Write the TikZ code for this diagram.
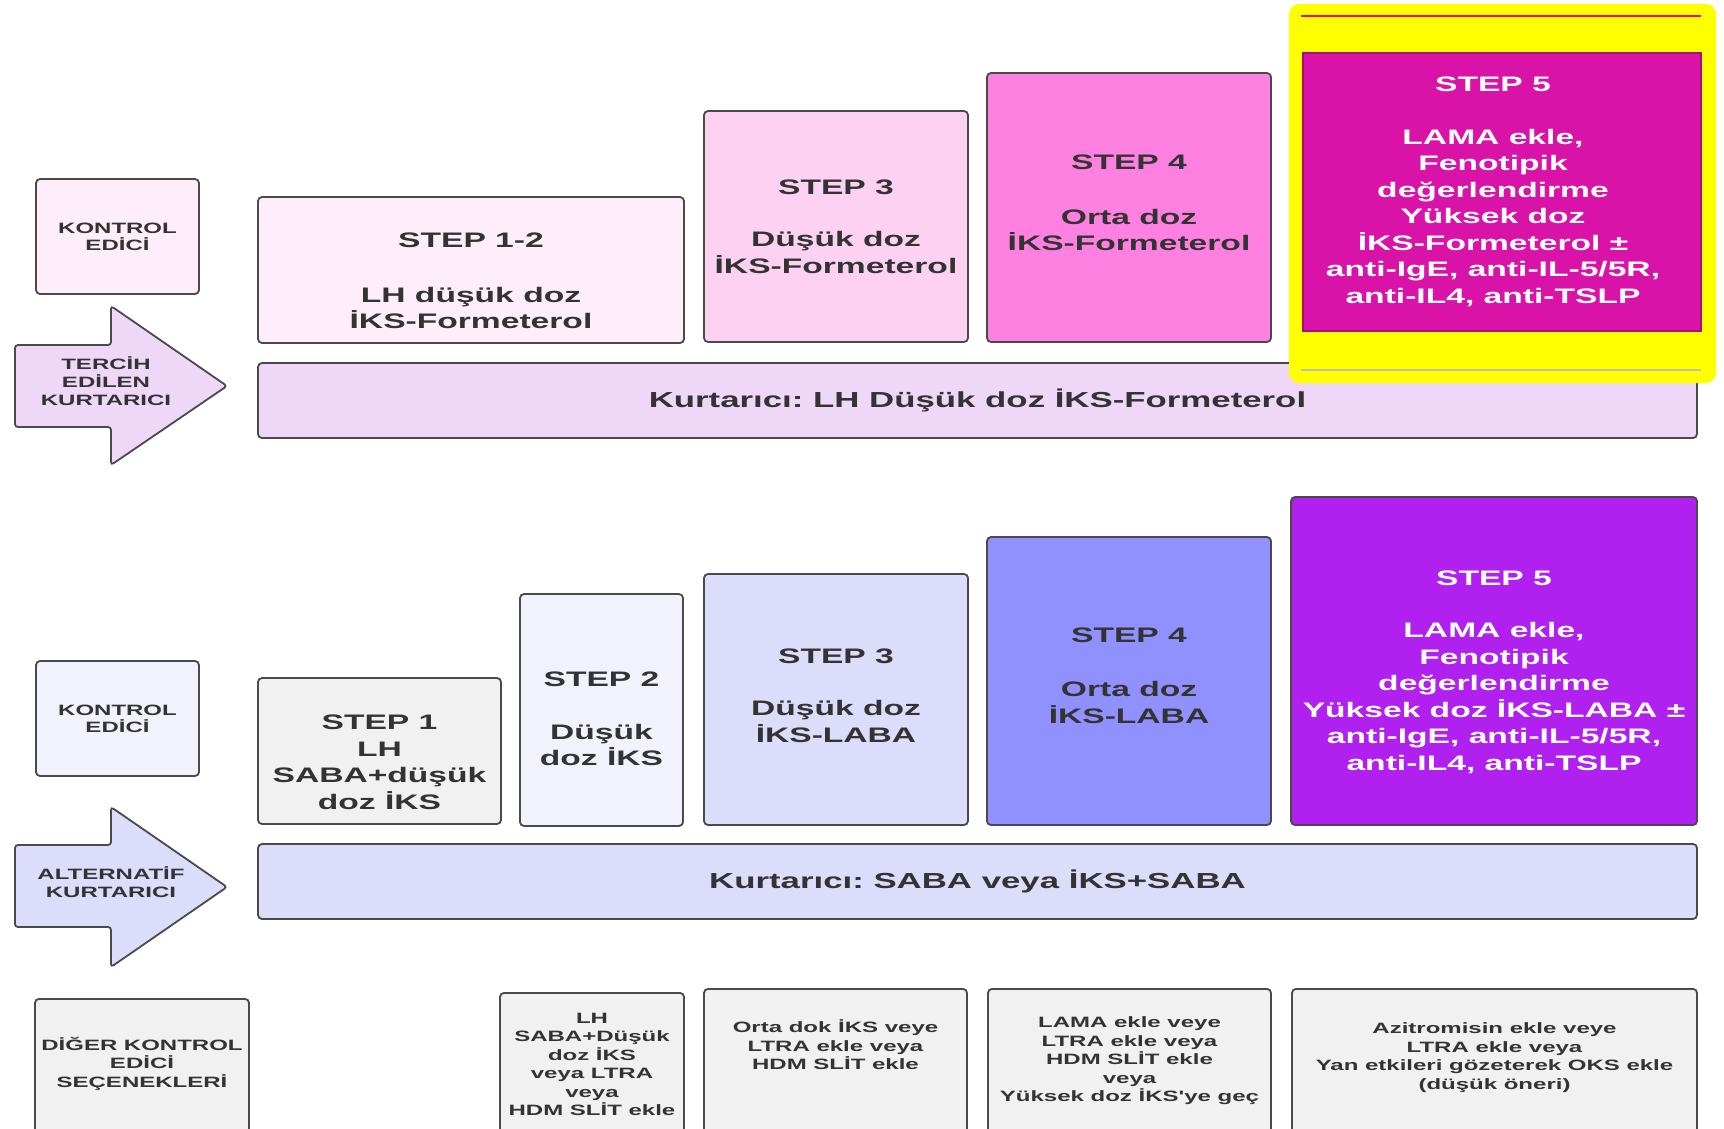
\documentclass[tikz,border=0pt]{standalone}
\usepackage{fontspec}
\setmainfont{Liberation Sans}[FakeStretch=1.6, Ligatures=TeXOff]
\usepackage{xcolor}
\usepackage{tikz}
\frenchspacing

\definecolor{edge}{HTML}{4A4A4A}
\definecolor{ink}{HTML}{333333}
\definecolor{pinkpale}{HTML}{FDEEFA}
\definecolor{pinklight}{HTML}{FDD1F2}
\definecolor{pinkmid}{HTML}{FE80E0}
\definecolor{pinkdeep}{HTML}{D912A8}
\definecolor{lilac}{HTML}{EFD7F8}
\definecolor{lavpale}{HTML}{F2F2FD}
\definecolor{lavlight}{HTML}{DCDCFB}
\definecolor{lavmid}{HTML}{9090FF}
\definecolor{violet}{HTML}{B020EE}
\definecolor{greypale}{HTML}{F1F1F1}
\definecolor{marker}{HTML}{FFFF00}

% push the text of a box down (strut on first line) or up (depth on last line)
\newcommand{\dn}[1]{\rule{0pt}{#1}}
\newcommand{\up}[1]{\rule[-#1]{0pt}{0pt}}

\begin{document}
\begin{tikzpicture}[x=1pt, y=-1pt,
  box/.style={draw=edge, line width=1.8pt, rounded corners=4pt, inner sep=0pt,
              align=center, text=ink, font=\bfseries\fontsize{21}{26.5}\selectfont},
  tag/.style={box, font=\bfseries\fontsize{15}{17}\selectfont},
  opt/.style={box, fill=greypale, anchor=north, inner xsep=0pt,
              font=\bfseries\fontsize{15}{18.5}\selectfont},
  bar/.style={box, font=\bfseries\fontsize{21.75}{26}\selectfont},
  sz/.style 2 args={minimum width=#1, minimum height=#2},
  arrowshape/.style={draw=edge, line width=1.8pt, rounded corners=3pt},
  arrowtext/.style={align=center, text=ink, inner sep=0pt,
                    font=\bfseries\fontsize{15}{18}\selectfont}]
  \useasboundingbox (0,0) rectangle (1724,1128);

  % ---------- preferred track ----------
  \node[tag, fill=pinkpale, sz={163}{115}] (ctrlA) at (117.5,236.5) {KONTROL\\EDİCİ};

  \draw[arrowshape, fill=lilac] (15,345) -- (111,345) -- (111,306) -- (227,386)
    -- (111,465) -- (111,427) -- (15,427) -- cycle;
  \node[arrowtext] (relA) at (106,381) {TERCİH\\EDİLEN\\KURTARICI};

  \node[box, fill=pinkpale, sz={426}{146}] (stepAa) at (471,270)
    {\dn{37pt}STEP 1-2\\[28pt]LH düşük doz\\İKS-Formeterol};
  \node[box, fill=pinklight, sz={264}{231}] (stepAb) at (836,226.5)
    {STEP 3\\[26pt]Düşük doz\\İKS-Formeterol};
  \node[box, fill=pinkmid, sz={284}{269}] (stepAc) at (1129,207.5)
    {STEP 4\\[28pt]Orta doz\\İKS-Formeterol\up{9pt}};

  \node[bar, fill=lilac, sz={1439}{75}] (barA) at (977.5,400.5)
    {Kurtarıcı: LH Düşük doz İKS-Formeterol};

  % highlight round step 5
  \node[fill=marker, draw=marker, line width=2pt, rounded corners=9pt,
        sz={425}{377}] (mark) at (1502.5,193.5) {};
  \draw[pinkdeep!80!red, line width=2.5pt] ([xshift=12pt,yshift=-12pt]mark.north west)
    -- ([xshift=-15pt,yshift=-12pt]mark.north east);
  \draw[black!25, line width=1.5pt] ([xshift=12pt,yshift=13pt]mark.south west)
    -- ([xshift=-15pt,yshift=13pt]mark.south east);
  \node[box, fill=pinkdeep, draw=pinkdeep!75!black, line width=1.2pt, rounded corners=0pt,
        sz={398}{278}] (stepAd) at (1502,192) {};
  \node[align=center, text=white, inner sep=0pt,
        font=\bfseries\fontsize{21}{26.5}\selectfont] (stepAdtext) at ([xshift=-9pt]stepAd.center)
    {STEP 5\\[26pt]LAMA ekle,\\Fenotipik\\değerlendirme\\Yüksek doz\\İKS-Formeterol ±\\
     anti-IgE, anti-IL-5/5R,\\anti-IL4, anti-TSLP};

  % ---------- alternative track ----------
  \node[tag, fill=lavpale, sz={163}{115}] (ctrlB) at (117.5,718.5) {KONTROL\\EDİCİ};

  \draw[arrowshape, fill=lavlight] (15,845) -- (111,845) -- (111,807) -- (227,887)
    -- (111,967) -- (111,927) -- (15,927) -- cycle;
  \node[arrowtext] (relB) at (111,882.5) {ALTERNATİF\\KURTARICI};

  \node[box, fill=greypale, sz={243}{146}] (stepBa) at (379.5,751)
    {\dn{37pt}STEP 1\\LH\\SABA+düşük\\doz İKS};
  \node[box, fill=lavpale, sz={163}{232}] (stepBb) at (601.5,710)
    {\dn{33pt}STEP 2\\[26pt]Düşük\\doz İKS};
  \node[box, fill=lavlight, sz={264}{251}] (stepBc) at (836,699.5)
    {STEP 3\\[26pt]Düşük doz\\İKS-LABA\up{8pt}};
  \node[box, fill=lavmid, sz={284}{288}] (stepBd) at (1129,681)
    {STEP 4\\[28pt]Orta doz\\İKS-LABA\up{11pt}};
  \node[box, fill=violet, text=white, sz={406}{328}] (stepBe) at (1494,661)
    {\dn{37pt}STEP 5\\[26pt]LAMA ekle,\\Fenotipik\\değerlendirme\\Yüksek doz İKS-LABA ±\\
     anti-IgE, anti-IL-5/5R,\\anti-IL4, anti-TSLP};

  \node[bar, fill=lavlight, sz={1439}{75}] (barB) at (977.5,881.5)
    {Kurtarıcı: SABA veya İKS+SABA};

  % ---------- other controllers (run off the page) ----------
  \node[opt, inner ysep=38pt, minimum width=214] (other) at (142,998)
    {DİĞER KONTROL\\EDİCİ\\SEÇENEKLERİ\\[60pt]\null};
  \node[opt, inner ysep=20pt, minimum width=184] (optBb) at (592,992)
    {LH\\SABA+Düşük\\doz İKS\\veya LTRA\\veya\\HDM SLİT ekle\\[40pt]\null};
  \node[opt, inner ysep=31pt, minimum width=263] (optBc) at (835.5,988)
    {Orta dok İKS veye\\LTRA ekle veya\\HDM SLİT ekle\\[80pt]\null};
  \node[opt, inner ysep=28pt, minimum width=283] (optBd) at (1129.5,988)
    {LAMA ekle veye\\LTRA ekle veya\\HDM SLİT ekle\\veya\\Yüksek doz İKS'ye geç\\[60pt]\null};
  \node[opt, inner ysep=34pt, minimum width=405] (optBe) at (1494.5,988)
    {Azitromisin ekle veye\\LTRA ekle veya\\Yan etkileri gözeterek OKS ekle\\(düşük öneri)\\[60pt]\null};
\end{tikzpicture}
\end{document}
